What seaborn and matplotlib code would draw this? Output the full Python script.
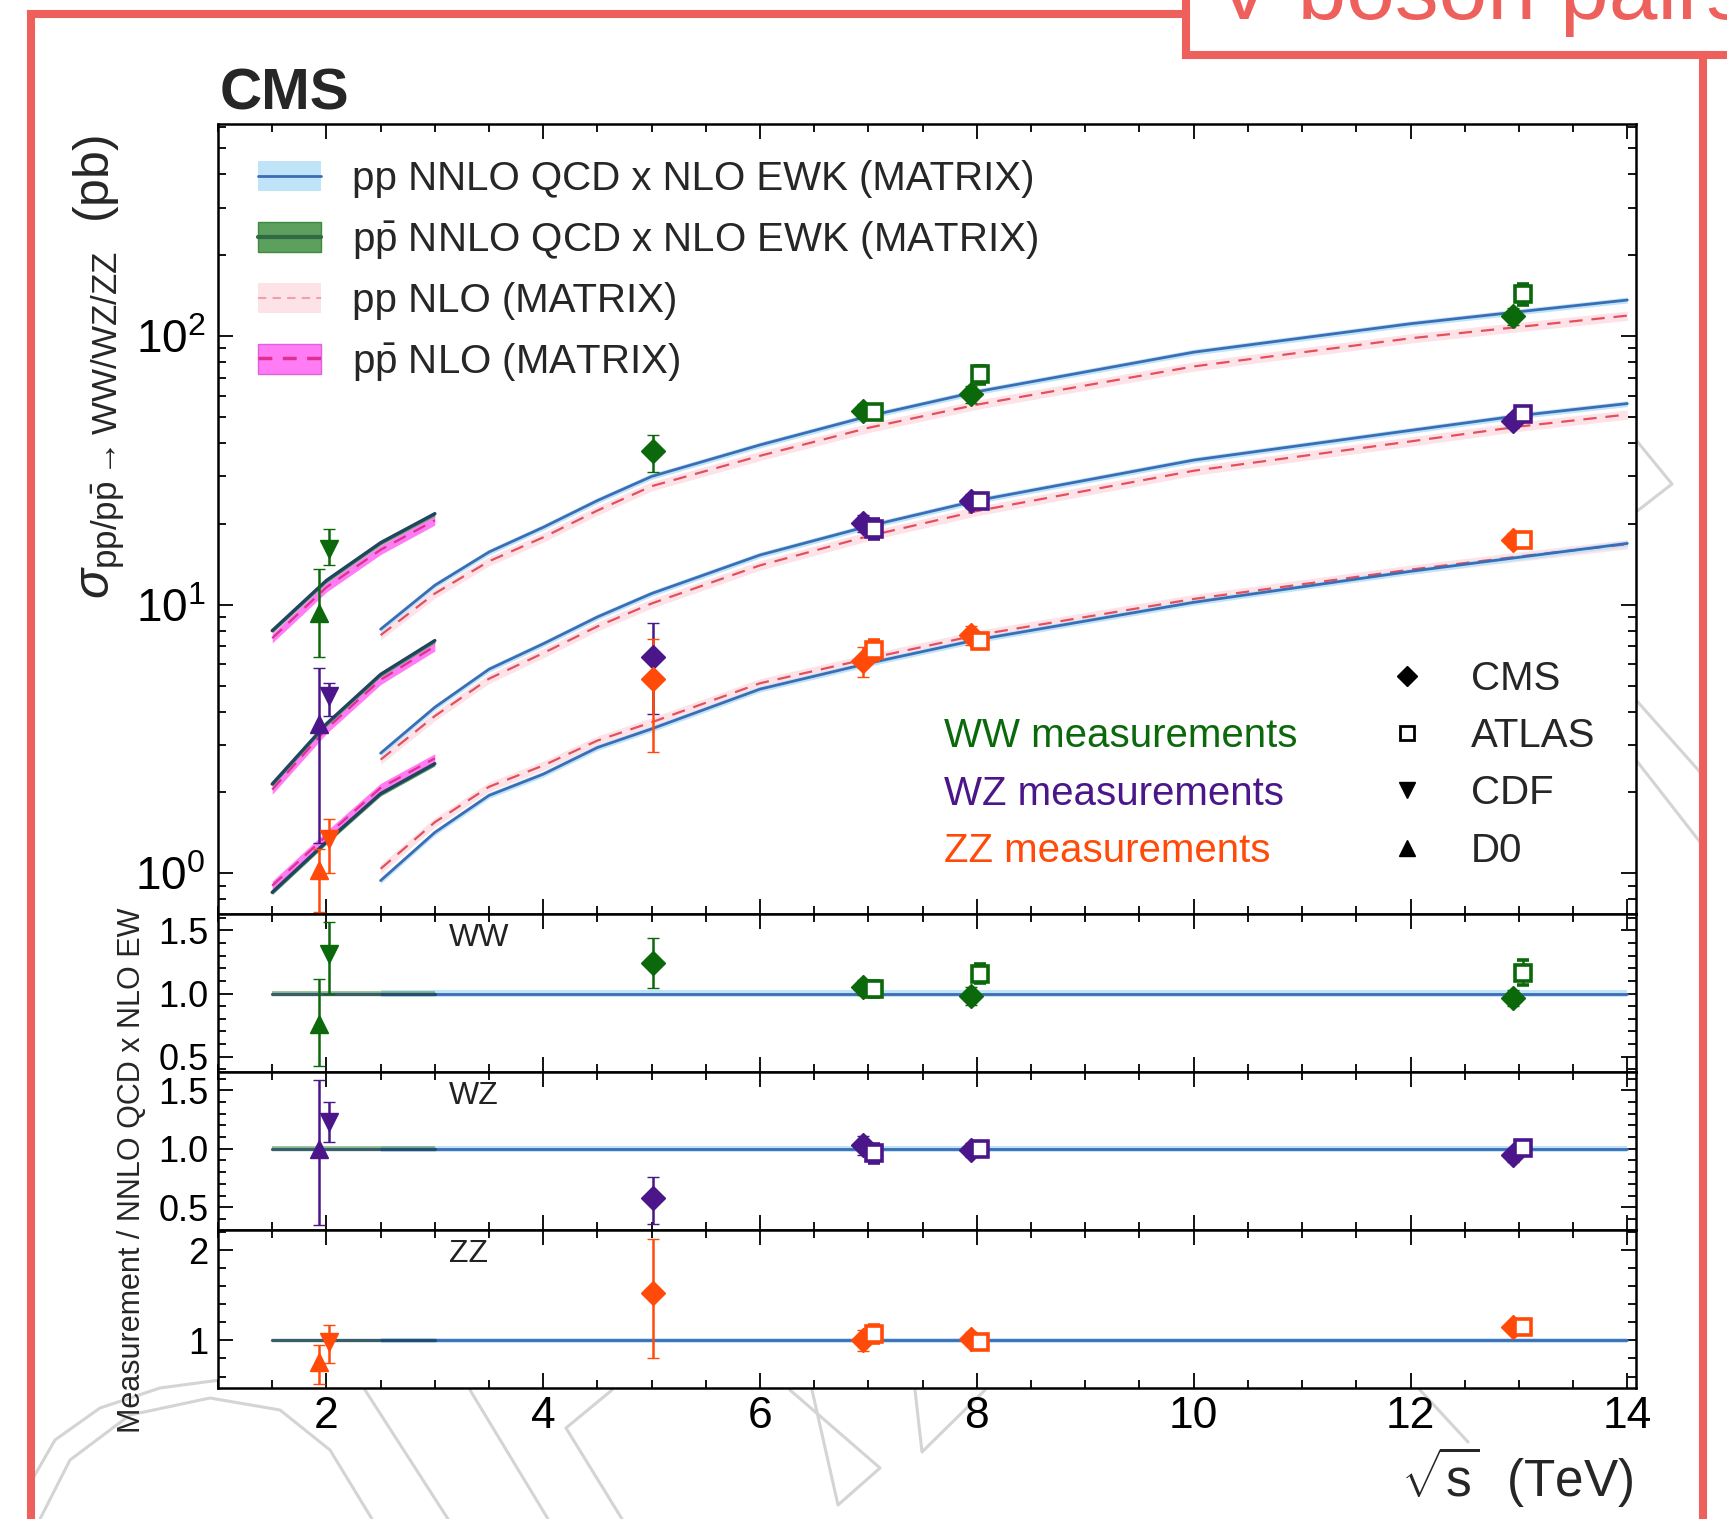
import numpy as np
import pandas as pd
import seaborn as sns
import matplotlib.pyplot as plt
from matplotlib.lines import Line2D
from matplotlib.patches import Patch
from matplotlib.ticker import MultipleLocator, FixedLocator, FormatStrFormatter, LogLocator, NullFormatter

# ---- theory curves (MATRIX) ----
pp_sqrts = [2.5, 3, 3.5, 4, 4.5, 5, 6, 7, 8, 10, 12, 13, 14]
ww_pp_nnlo = [8.1, 11.8, 15.7, 19.4, 24.4, 30.0, 39.3, 50.3, 62.0, 87.0, 111.0, 123.0, 136.0]
ww_pp_nlo = [7.7, 11.0, 14.5, 17.8, 22.4, 27.6, 35.8, 45.5, 55.5, 77.0, 98.0, 108.0, 119.0]
wz_pp_nnlo = [2.8, 4.15, 5.75, 7.15, 9.0, 11.0, 15.3, 19.6, 24.4, 34.5, 44.5, 50.5, 56.0]
wz_pp_nlo = [2.65, 3.85, 5.3, 6.6, 8.3, 10.1, 14.0, 18.0, 22.3, 31.5, 40.5, 46.0, 51.0]
zz_pp_nnlo = [0.94, 1.42, 1.95, 2.34, 2.94, 3.45, 4.85, 6.05, 7.4, 10.2, 13.3, 15.0, 16.9]
zz_pp_nlo = [1.04, 1.55, 2.1, 2.52, 3.12, 3.65, 5.1, 6.3, 7.7, 10.5, 13.5, 15.1, 16.8]

ppbar_sqrts = [1.5, 2.0, 2.5, 3.0]
ww_ppbar_nnlo = [8.0, 12.3, 17.0, 21.8]
ww_ppbar_nlo = [7.5, 11.6, 16.0, 20.6]
wz_ppbar_nnlo = [2.15, 3.6, 5.5, 7.35]
wz_ppbar_nlo = [2.05, 3.45, 5.25, 7.0]
zz_ppbar_nnlo = [0.85, 1.31, 1.98, 2.56]
zz_ppbar_nlo = [0.9, 1.38, 2.08, 2.68]

# relative band half-widths
unc_pp_nnlo, unc_pp_nlo = 0.025, 0.04
unc_ppbar_nnlo, unc_ppbar_nlo = 0.02, 0.04

# ---- measurements ----
experiments = ["D0", "CDF", "CMS", "CMS", "CMS", "CMS", "ATLAS", "ATLAS", "ATLAS"]
meas_sqrts = [1.93, 2.02, 5.01, 6.95, 7.95, 12.95, 7.05, 8.03, 13.04]

ww_xs = [9.3, 16.1, 37.2, 52.6, 60.6, 118.6, 51.9, 71.9, 143.0]
ww_xs_lo = [6.4, 14.0, 31.1, 49.6, 56.1, 110.0, 48.9, 66.3, 130.0]
ww_xs_hi = [13.6, 19.2, 42.8, 55.6, 65.1, 127.0, 54.9, 77.4, 156.0]
ww_ratio = [0.757, 1.316, 1.238, 1.05, 0.98, 0.965, 1.035, 1.157, 1.165]
ww_ratio_lo = [0.43, 1.0, 1.04, 0.99, 0.91, 0.90, 0.975, 1.08, 1.065]
ww_ratio_hi = [1.114, 1.566, 1.436, 1.11, 1.05, 1.03, 1.095, 1.235, 1.265]

wz_xs = [3.6, 4.59, 6.41, 20.1, 24.3, 48.3, 19.2, 24.3, 51.1]
wz_xs_lo = [1.3, 3.85, 3.92, 18.6, 22.8, 45.3, 17.6, 23.1, 48.5]
wz_xs_hi = [5.8, 5.1, 8.52, 21.6, 25.8, 51.3, 20.8, 25.5, 53.7]
wz_ratio = [1.0, 1.23, 0.58, 1.03, 0.99, 0.95, 0.96, 1.0, 1.01]
wz_ratio_lo = [0.35, 1.055, 0.36, 0.95, 0.93, 0.89, 0.88, 0.95, 0.96]
wz_ratio_hi = [1.59, 1.40, 0.76, 1.11, 1.05, 1.01, 1.04, 1.05, 1.06]

zz_xs = [1.03, 1.34, 5.3, 6.18, 7.68, 17.4, 6.79, 7.32, 17.4]
zz_xs_lo = [0.72, 1.0, 2.82, 5.4, 7.1, 16.4, 6.2, 6.9, 16.6]
zz_xs_hi = [1.23, 1.59, 7.45, 6.95, 8.3, 18.4, 7.4, 7.7, 18.2]
zz_ratio = [0.756, 0.985, 1.53, 1.0, 1.02, 1.15, 1.07, 0.98, 1.15]
zz_ratio_lo = [0.52, 0.75, 0.81, 0.88, 0.95, 1.09, 0.97, 0.92, 1.10]
zz_ratio_hi = [0.95, 1.17, 2.12, 1.12, 1.09, 1.21, 1.17, 1.04, 1.20]

ratio_pp_x = [2.5, 14.0]
ratio_ppbar_x = [1.5, 3.0]
ratio_one = [1.0, 1.0]

# ---- style ----
sns.set_theme(style="ticks")
plt.rcParams["font.family"] = ["Liberation Sans", "DejaVu Sans"]
plt.rcParams["mathtext.fontset"] = "custom"
plt.rcParams["mathtext.rm"] = "Liberation Sans"
plt.rcParams["mathtext.it"] = "Liberation Sans:italic"
plt.rcParams["mathtext.bf"] = "Liberation Sans:bold"
plt.rcParams["axes.linewidth"] = 1.8

c_ww, c_wz, c_zz = "#0b680b", "#4b1689", "#ff4a0a"
c_pp_band, c_pp_line = "#bfe4f8", "#3b6db5"
c_ppbar_band, c_ppbar_line = "#5d9f5d", "#1f4560"
c_nlo_band, c_nlo_line = "#fde3e8", "#e2505e"
c_nlob_band, c_nlob_line = "#ff7cf5", "#e0308f"
red_frame = "#ee605c"

markers = {"D0": "^", "CDF": "v", "CMS": "D", "ATLAS": "s"}
msizes = {"D0": 13, "CDF": 13, "CMS": 12.5, "ATLAS": 12}

fig = plt.figure(figsize=(17.27, 15.19), dpi=100)
W_PX, H_PX = 1727, 1519
left, right = 218, 1636
edges = [124.5, 914, 1072, 1230, 1388]


def add_ax(top, bottom):
    return fig.add_axes([left / W_PX, 1 - bottom / H_PX, (right - left) / W_PX, (bottom - top) / H_PX])


ax_main = add_ax(edges[0], edges[1])
ax_ww = add_ax(edges[1], edges[2])
ax_wz = add_ax(edges[2], edges[3])
ax_zz = add_ax(edges[3], edges[4])
for a in (ax_main, ax_ww, ax_wz, ax_zz):
    a.set_facecolor("white")
    a.set_zorder(2)

# ---- main panel ----
procs = [
    (ww_pp_nnlo, ww_pp_nlo, ww_ppbar_nnlo, ww_ppbar_nlo),
    (wz_pp_nnlo, wz_pp_nlo, wz_ppbar_nnlo, wz_ppbar_nlo),
    (zz_pp_nnlo, zz_pp_nlo, zz_ppbar_nnlo, zz_ppbar_nlo),
]
for pp_nnlo, pp_nlo, pb_nnlo, pb_nlo in procs:
    pp_nnlo, pp_nlo = np.array(pp_nnlo), np.array(pp_nlo)
    pb_nnlo, pb_nlo = np.array(pb_nnlo), np.array(pb_nlo)
    ax_main.fill_between(pp_sqrts, pp_nlo * (1 - unc_pp_nlo), pp_nlo * (1 + unc_pp_nlo),
                         color=c_nlo_band, lw=0, zorder=1)
    ax_main.fill_between(pp_sqrts, pp_nnlo * (1 - unc_pp_nnlo), pp_nnlo * (1 + unc_pp_nnlo),
                         color=c_pp_band, lw=0, zorder=2)
    ax_main.fill_between(ppbar_sqrts, pb_nlo * (1 - unc_ppbar_nlo), pb_nlo * (1 + unc_ppbar_nlo),
                         color=c_nlob_band, lw=0, zorder=1)
    ax_main.fill_between(ppbar_sqrts, pb_nnlo * (1 - unc_ppbar_nnlo), pb_nnlo * (1 + unc_ppbar_nnlo),
                         color=c_ppbar_band, lw=0, zorder=2)
    sns.lineplot(x=pp_sqrts, y=pp_nlo, ax=ax_main, color=c_nlo_line, lw=1.6,
                 linestyle=(0, (6, 4)), zorder=3)
    sns.lineplot(x=pp_sqrts, y=pp_nnlo, ax=ax_main, color=c_pp_line, lw=2.0, zorder=4)
    sns.lineplot(x=ppbar_sqrts, y=pb_nlo, ax=ax_main, color=c_nlob_line, lw=1.6,
                 linestyle=(0, (6, 4)), zorder=3)
    sns.lineplot(x=ppbar_sqrts, y=pb_nnlo, ax=ax_main, color=c_ppbar_line, lw=2.4, zorder=4)


def draw_points(ax, vals, lo, hi, color):
    for exp, x, v, l, h in zip(experiments, meas_sqrts, vals, lo, hi):
        open_marker = exp == "ATLAS"
        ax.errorbar([x], [v], yerr=[[v - l], [h - v]], fmt=markers[exp], color=color,
                    ms=msizes[exp], mfc="white" if open_marker else color, mec=color,
                    mew=2.6 if open_marker else 1, elinewidth=1.8, capsize=4, capthick=1.8,
                    zorder=6)


draw_points(ax_main, ww_xs, ww_xs_lo, ww_xs_hi, c_ww)
draw_points(ax_main, wz_xs, wz_xs_lo, wz_xs_hi, c_wz)
draw_points(ax_main, zz_xs, zz_xs_lo, zz_xs_hi, c_zz)

ax_main.set_yscale("log")
ax_main.set_ylim(0.706, 612)

# ---- ratio panels ----
ratio_panels = [
    (ax_ww, "WW", c_ww, ww_ratio, ww_ratio_lo, ww_ratio_hi, (0.38, 1.628)),
    (ax_wz, "WZ", c_wz, wz_ratio, wz_ratio_lo, wz_ratio_hi, (0.305, 1.657)),
    (ax_zz, "ZZ", c_zz, zz_ratio, zz_ratio_lo, zz_ratio_hi, (0.473, 2.222)),
]
for ax, name, col, r, rlo, rhi, ylim in ratio_panels:
    ax.fill_between(ratio_pp_x, [1 - unc_pp_nnlo] * 2, [1 + unc_pp_nnlo] * 2,
                    color=c_pp_band, lw=0, zorder=1)
    ax.fill_between(ratio_ppbar_x, [1 - unc_ppbar_nnlo] * 2, [1 + unc_ppbar_nnlo] * 2,
                    color=c_ppbar_band, alpha=0.6, lw=0, zorder=1)
    sns.lineplot(x=ratio_pp_x, y=ratio_one, ax=ax, color=c_pp_line, lw=2.0, zorder=3)
    sns.lineplot(x=ratio_ppbar_x, y=ratio_one, ax=ax, color=c_ppbar_line, lw=2.4, zorder=3,
                 alpha=0.8)
    draw_points(ax, r, rlo, rhi, col)
    ax.set_ylim(*ylim)
    ax.text(3.13, 0.85, name, transform=ax.get_xaxis_transform(), fontsize=23,
            ha="left", va="center", color="#222222")

for ax in (ax_ww, ax_wz):
    ax.yaxis.set_major_locator(FixedLocator([0.5, 1.0, 1.5]))
    ax.yaxis.set_minor_locator(MultipleLocator(0.1))
    ax.yaxis.set_major_formatter(FormatStrFormatter("%.1f"))
ax_zz.yaxis.set_major_locator(FixedLocator([1, 2]))
ax_zz.yaxis.set_minor_locator(MultipleLocator(0.2))
ax_zz.yaxis.set_major_formatter(FormatStrFormatter("%d"))

# ---- common axis cosmetics ----
for ax in (ax_main, ax_ww, ax_wz, ax_zz):
    ax.set_xlim(1.0, 14.08)
    ax.xaxis.set_major_locator(MultipleLocator(2))
    ax.xaxis.set_minor_locator(MultipleLocator(0.5))
    ax.set_xlabel("")
    ax.set_ylabel("")
    ax.tick_params(which="both", direction="in", top=True, right=True, width=1.3,
                   colors="black", labelcolor="black")
    ax.tick_params(which="major", length=11)
    ax.tick_params(which="minor", length=6)
    ax.tick_params(axis="x", labelbottom=False)
    ax.tick_params(axis="y", labelsize=26, pad=7)
    for s in ax.spines.values():
        s.set_color("black")
        s.set_linewidth(1.8)

ax_main.tick_params(axis="y", labelsize=33, pad=9)
ax_main.yaxis.set_major_locator(LogLocator(base=10, numticks=10))
ax_main.yaxis.set_minor_locator(LogLocator(base=10, subs=np.arange(2, 10), numticks=20))
ax_main.yaxis.set_minor_formatter(NullFormatter())
ax_zz.tick_params(axis="x", labelbottom=True, labelsize=32, pad=6)

# ---- legends ----
leg_handles = [
    (Patch(facecolor=c_pp_band, edgecolor="none"), Line2D([], [], color=c_pp_line, lw=2)),
    (Patch(facecolor=c_ppbar_band, edgecolor="#3f8a3f"), Line2D([], [], color="#2f6a45", lw=3)),
    (Patch(facecolor=c_nlo_band, edgecolor="none"),
     Line2D([], [], color="#f0a0a8", lw=1.5, linestyle=(0, (4, 3)))),
    (Patch(facecolor=c_nlob_band, edgecolor="#e060e0"),
     Line2D([], [], color=c_nlob_line, lw=2.5, linestyle=(0, (4, 3)))),
]
leg_labels = [
    "pp NNLO QCD x NLO EWK (MATRIX)",
    r"p$\bar{\mathrm{p}}$ NNLO QCD x NLO EWK (MATRIX)",
    "pp NLO (MATRIX)",
    r"p$\bar{\mathrm{p}}$ NLO (MATRIX)",
]
leg1 = ax_main.legend(leg_handles, leg_labels, loc="upper left", bbox_to_anchor=(0.028, 0.955),
                      frameon=False, fontsize=29, handlelength=1.56, handleheight=0.75,
                      handletextpad=0.77, labelspacing=0.52, borderpad=0, borderaxespad=0)
ax_main.add_artist(leg1)

exp_handles = [
    Line2D([], [], marker="D", color="black", ls="none", ms=10),
    Line2D([], [], marker="s", color="black", mfc="white", ls="none", ms=10, mew=2),
    Line2D([], [], marker="v", color="black", ls="none", ms=11),
    Line2D([], [], marker="^", color="black", ls="none", ms=11),
]
ax_main.legend(exp_handles, ["CMS", "ATLAS", "CDF", "D0"], loc="upper left",
               bbox_to_anchor=(0.824, 0.322), frameon=False, fontsize=29, handlelength=1.0,
               handletextpad=1.09, labelspacing=0.48, borderpad=0, borderaxespad=0)

for label, col, ypx in [("WW measurements", c_ww, 736), ("WZ measurements", c_wz, 794),
                        ("ZZ measurements", c_zz, 851)]:
    ax_main.text((944 - left) / (right - left), 1 - (ypx - edges[0]) / (edges[1] - edges[0]),
                 label, transform=ax_main.transAxes, color=col, fontsize=29,
                 ha="left", va="center")

# ---- figure texts ----
fig.text(220 / W_PX, 1 - 110 / H_PX, "CMS", fontsize=42, fontweight="bold", ha="left",
         va="baseline")
fig.text(99 / W_PX, 1 - 367 / H_PX,
         r"$\sigma_{\mathrm{pp/p\bar{p}\rightarrow WW/WZ/ZZ}}$  (pb)",
         rotation=90, fontsize=36, ha="center", va="center")
fig.text(132 / W_PX, 1 - 1170 / H_PX, "Measurement / NNLO QCD x NLO EW", rotation=90,
         fontsize=22, ha="center", va="center")
fig.text(1633 / W_PX, 1 - 1477 / H_PX, r"$\sqrt{\mathrm{s}}$  (TeV)", fontsize=37, ha="right",
         va="center")

# ---- slide decoration: red frame, title box, faint watermark ----
def fig_line(xs, ys, **kw):
    fig.add_artist(Line2D([x / W_PX for x in xs], [1 - y / H_PX for y in ys],
                          transform=fig.transFigure, **kw))


wm = dict(color="#d4d4d4", lw=2.2, zorder=0)
fig_line([32, 55, 100, 160, 220], [1480, 1440, 1408, 1388, 1380], **wm)
fig_line([40, 70, 130, 210, 280, 330, 372], [1519, 1460, 1415, 1398, 1410, 1450, 1519], **wm)
fig_line([365, 448], [1390, 1519], **wm)
fig_line([470, 548], [1390, 1519], **wm)
fig_line([612, 566, 622], [1390, 1428, 1519], **wm)
fig_line([790, 880, 838, 812], [1390, 1468, 1505, 1390], **wm)
fig_line([915, 922, 985], [1390, 1452, 1390], **wm)
fig_line([1420, 1468], [1390, 1442], **wm)
fig_line([1636, 1672, 1636], [440, 484, 512], **wm)
fig_line([1636, 1700], [700, 772], **wm)
fig_line([1636, 1700], [760, 842], **wm)

frame = dict(color=red_frame, lw=5.8, solid_capstyle="projecting", zorder=10)
fig_line([31, 31], [14, 1525], **frame)
fig_line([31, 1186], [14, 14], **frame)
fig_line([1186, 1186], [-5, 55], **frame)
fig_line([1186, 1735], [55, 55], **frame)
fig_line([1703, 1703], [55, 1525], **frame)
fig.text(1215 / W_PX, 1 - 19 / H_PX, "V boson pairs", fontsize=63, color=red_frame,
         ha="left", va="baseline")

fig.savefig("out.png", dpi=100)
